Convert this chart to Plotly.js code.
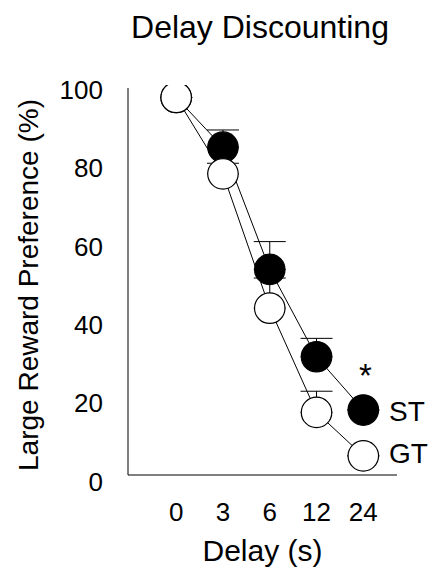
<!DOCTYPE html>
<html>
<head>
<meta charset="utf-8">
<script src="https://cdn.plot.ly/plotly-3.0.1.min.js"></script>
<style>html,body{margin:0;padding:0;background:#fff;}#chart{width:430px;height:572px;}</style>
</head>
<body>
<div id="chart"></div>
<script>
const delays = ["0", "3", "6", "12", "24"];
const stValues = [98.1, 85.4, 54.2, 31.9, 18.3];
const stErrors = [0, 4.4, 7.1, 4.7, 0];
const gtValues = [98.1, 78.6, 44.3, 17.7, 6.6];
const gtErrors = [0, 2.7, 7.7, 5.4, 0];
const yTicks = [0, 20, 40, 60, 80, 100];
const groupNames = ["ST", "GT"];
const sigMark = "*";

const FONT = "Liberation Sans, Arial, sans-serif";

const gt = {
  x: delays, y: gtValues, type: "scatter", mode: "lines+markers", name: groupNames[1],
  line: {color: "#000", width: 1},
  marker: {size: 30.5, color: "#fff", line: {color: "#000", width: 1.2}},
  error_y: {type: "data", array: gtErrors, arrayminus: gtErrors.map(() => 0), symmetric: false,
            color: "#000", thickness: 1, width: 16}
};
const st = {
  x: delays, y: stValues, type: "scatter", mode: "lines+markers", name: groupNames[0],
  line: {color: "#000", width: 1},
  marker: {size: 30.5, color: "#000", line: {color: "#000", width: 1.2}},
  error_y: {type: "data", array: stErrors, arrayminus: stErrors.map(() => 0), symmetric: false,
            color: "#000", thickness: 1, width: 16}
};

const last = delays.length - 1;
const layout = {
  width: 430, height: 572,
  margin: {l: 128, r: 33, t: 85, b: 87},
  paper_bgcolor: "#fff", plot_bgcolor: "#fff",
  showlegend: false,
  font: {family: FONT, color: "#000"},
  title: {text: "Delay Discounting", font: {size: 32, family: FONT, color: "#000"},
          x: 260/430, xanchor: "center", y: 1 - 27/572, yanchor: "middle"},
  xaxis: {
    type: "category", range: [-1.03, 4.72], showgrid: false, zeroline: false, showline: false,
    ticks: "", tickfont: {size: 26}, ticklabelstandoff: 9,
    title: {text: "Delay (s)", font: {size: 30}, standoff: 13}
  },
  yaxis: {
    range: [-0.84, 101.28], tickvals: yTicks, showgrid: false, zeroline: false, showline: false,
    ticks: "", tickfont: {size: 26}, ticklabelstandoff: 24,
    title: {text: "Large Reward Preference (%)", font: {size: 28}, standoff: 12}
  },
  shapes: [
    {type: "line", xref: "paper", yref: "paper", x0: 0, x1: 0, y0: 0.025, y1: 0.9925, line: {color: "#000", width: 1}},
    {type: "line", xref: "paper", yref: "paper", x0: 0, x1: 1, y0: 0.025, y1: 0.025, line: {color: "#000", width: 1}}
  ],
  annotations: [
    {x: last, y: stValues[last], xref: "x", yref: "y", text: groupNames[0], showarrow: false, xanchor: "left", yanchor: "middle",
     xshift: 24, yshift: -1, font: {size: 28}},
    {x: last, y: gtValues[last], xref: "x", yref: "y", text: groupNames[1], showarrow: false, xanchor: "left", yanchor: "middle",
     xshift: 24, yshift: 2, font: {size: 28}},
    {x: last, y: stValues[last], xref: "x", yref: "y", text: sigMark, showarrow: false, xanchor: "center", yanchor: "middle",
     xshift: 2, yshift: 35, font: {size: 33}}
  ]
};

Plotly.newPlot("chart", [st, gt], layout, {displayModeBar: false, staticPlot: true});
</script>
</body>
</html>
